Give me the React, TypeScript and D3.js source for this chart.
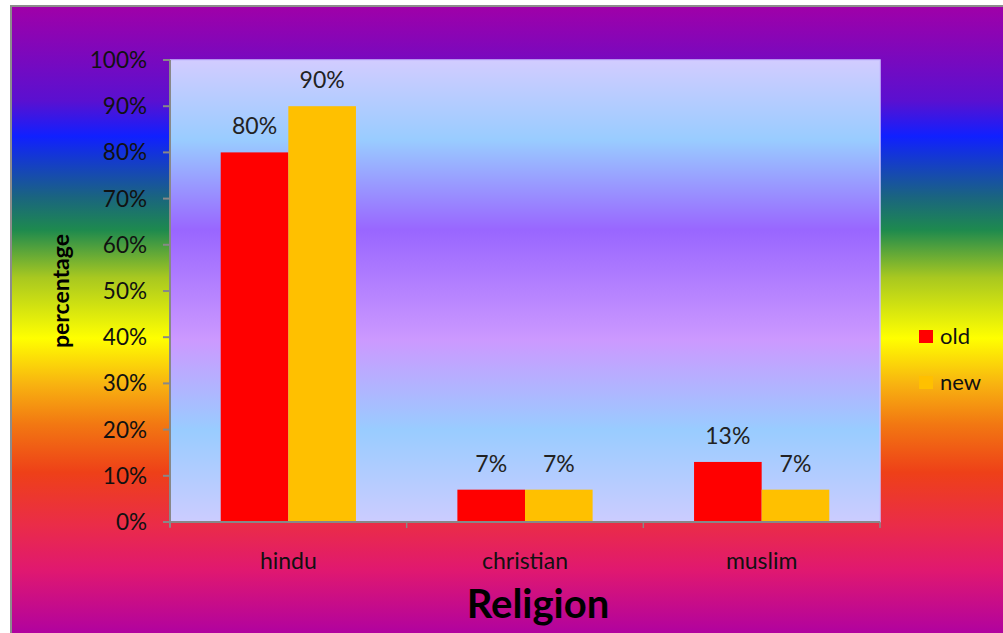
import React from "react";
import * as d3 from "d3";

const categories = ["hindu", "christian", "muslim"];
const seriesNames = ["old", "new"];
const oldValues = [80, 7, 13];
const newValues = [90, 7, 7];
const yTicks = [0, 10, 20, 30, 40, 50, 60, 70, 80, 90, 100];
const seriesColors = ["#ff0000", "#ffc000"];

const W = 1003;
const H = 633;
const plot = { left: 170, top: 60, right: 880, bottom: 522 };
const FONT = "Lato, 'Noto Sans', sans-serif";

// Rainbow backdrop of the whole chart, top to bottom
const outerStops: [number, string][] = [
  [6, "#a000a8"],
  [100, "#5a10d0"],
  [135, "#1020ff"],
  [195, "#1a6480"],
  [228, "#1e8a4e"],
  [275, "#a8c820"],
  [335, "#ffff00"],
  [380, "#f8b410"],
  [420, "#f27812"],
  [468, "#ee4018"],
  [520, "#ea2c48"],
  [565, "#e01870"],
  [633, "#ac00a4"],
];

// Soft gradient filling the plot area
const plotStops: [number, string][] = [
  [60, "#d2ccff"],
  [140, "#99ccff"],
  [230, "#9966ff"],
  [340, "#cc99ff"],
  [430, "#99ccff"],
  [522, "#ccccff"],
];

export default function App() {
  const x0 = d3
    .scaleBand<string>()
    .domain(categories)
    .range([plot.left, plot.right])
    .paddingInner(0)
    .paddingOuter(0);
  const bw = x0.bandwidth();
  const barW = bw / 3.5; // 150% gap width
  const x1 = d3
    .scaleBand<string>()
    .domain(seriesNames)
    .range([bw / 2 - barW, bw / 2 + barW]);
  const y = d3.scaleLinear().domain([0, 100]).range([plot.bottom, plot.top]);

  const rows = categories.map((c, i) => ({
    cat: c,
    vals: [oldValues[i], newValues[i]],
  }));

  const outerSpan = [6, 633];
  const frac = (v: number, a: number, b: number) => ((v - a) / (b - a)) * 100;

  return (
    <svg
      width={W}
      height={H}
      style={{ position: "absolute", left: 0, top: 0, display: "block" }}
    >
      <defs>
        <linearGradient id="outerGrad" x1="0" y1="0" x2="0" y2="1">
          {outerStops.map(([p, c], i) => (
            <stop key={i} offset={`${frac(p, outerSpan[0], outerSpan[1])}%`} stopColor={c} />
          ))}
        </linearGradient>
        <linearGradient id="plotGrad" x1="0" y1="0" x2="0" y2="1">
          {plotStops.map(([p, c], i) => (
            <stop key={i} offset={`${frac(p, plot.top, plot.bottom)}%`} stopColor={c} />
          ))}
        </linearGradient>
      </defs>
      <rect x={0} y={0} width={W} height={H} fill="#ffffff" />
      <rect x={11} y={6} width={W} height={H} fill="url(#outerGrad)" />
      <line x1={10} y1={6} x2={W} y2={6} stroke="#8c8c8c" strokeWidth={2} />
      <line x1={11} y1={6} x2={11} y2={H} stroke="#8c8c8c" strokeWidth={2} />

      {/* plot area */}
      <rect
        x={plot.left}
        y={plot.top}
        width={plot.right - plot.left}
        height={plot.bottom - plot.top}
        fill="url(#plotGrad)"
        stroke="#c8c0ff"
        strokeWidth={1.5}
      />

      {/* bars */}
      {rows.map((r) =>
        r.vals.map((v, j) => (
          <rect
            key={r.cat + j}
            x={(x0(r.cat) as number) + (x1(seriesNames[j]) as number)}
            y={y(v)}
            width={x1.bandwidth()}
            height={y(0) - y(v)}
            fill={seriesColors[j]}
          />
        ))
      )}

      {/* value labels */}
      {rows.map((r) =>
        r.vals.map((v, j) => (
          <text
            key={"l" + r.cat + j}
            x={(x0(r.cat) as number) + (x1(seriesNames[j]) as number) + x1.bandwidth() / 2}
            y={y(v) - 18}
            textAnchor="middle"
            fontFamily={FONT}
            fontSize={23}
            fill="#222"
          >
            {v}%
          </text>
        ))
      )}

      {/* y axis */}
      <line x1={plot.left} y1={plot.top} x2={plot.left} y2={plot.bottom + 5} stroke="#888" strokeWidth={2} />
      {yTicks.map((t) => (
        <g key={t}>
          <line x1={plot.left - 7} x2={plot.left} y1={y(t)} y2={y(t)} stroke="#888" strokeWidth={2} />
          <text
            x={147}
            y={y(t) + 8}
            textAnchor="end"
            fontFamily={FONT}
            fontSize={22.5}
            fill="#111"
          >
            {t}%
          </text>
        </g>
      ))}

      {/* x axis */}
      <line x1={plot.left - 7} x2={plot.right} y1={plot.bottom} y2={plot.bottom} stroke="#888" strokeWidth={2} />
      {categories.map((c) => (
        <line
          key={"t" + c}
          x1={x0(c) as number}
          x2={x0(c) as number}
          y1={plot.bottom}
          y2={plot.bottom + 6}
          stroke="#888"
          strokeWidth={1.5}
        />
      ))}
      <line x1={plot.right} x2={plot.right} y1={plot.bottom} y2={plot.bottom + 6} stroke="#888" strokeWidth={1.5} />
      {categories.map((c) => (
        <text
          key={"c" + c}
          x={(x0(c) as number) + bw / 2}
          y={569}
          textAnchor="middle"
          fontFamily={FONT}
          fontSize={23}
          fill="#111"
        >
          {c}
        </text>
      ))}

      {/* axis titles */}
      <text x={538} y={618} textAnchor="middle" fontFamily={FONT} fontSize={40} fontWeight="bold" fill="#000">
        Religion
      </text>
      <text
        transform="translate(69,291) rotate(-90)"
        textAnchor="middle"
        fontFamily={FONT}
        fontSize={23}
        fontWeight="bold"
        fill="#000"
      >
        percentage
      </text>

      {/* legend */}
      {seriesNames.map((s, i) => (
        <g key={"lg" + s} transform={`translate(919,${330 + i * 46})`}>
          <rect x={0} y={0} width={14} height={13} fill={seriesColors[i]} />
          <text x={21} y={14} fontFamily={FONT} fontSize={22} fill="#111">
            {s}
          </text>
        </g>
      ))}
    </svg>
  );
}
